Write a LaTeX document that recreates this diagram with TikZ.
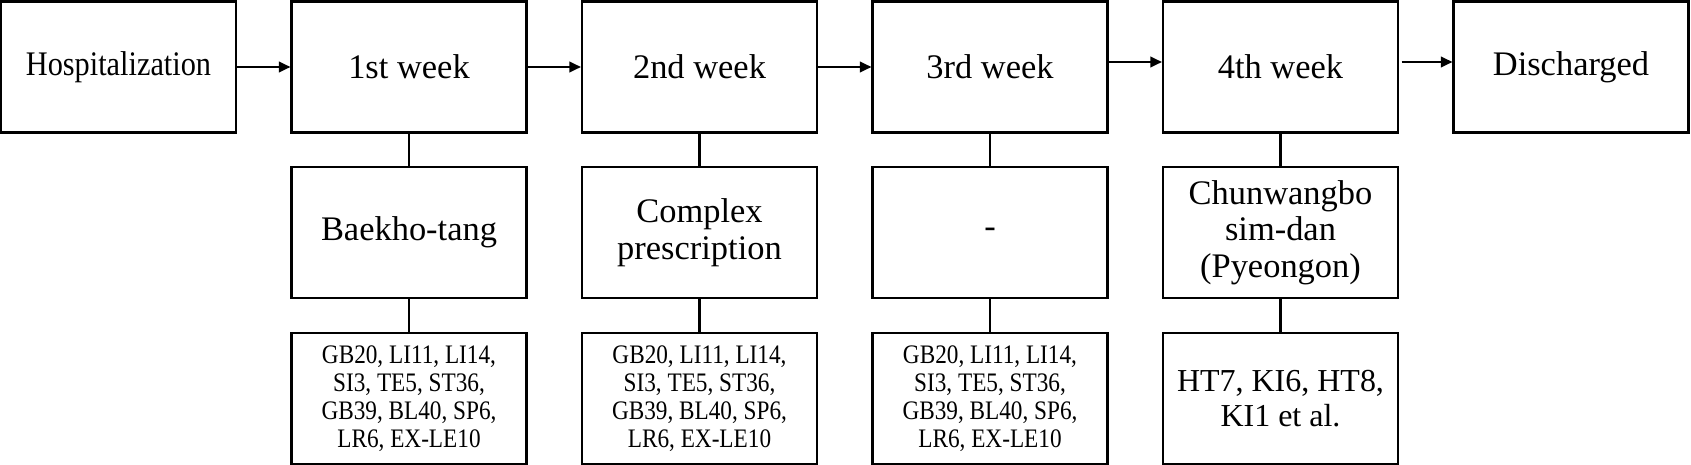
\documentclass[tikz,border=0pt]{standalone}
\usepackage{fontspec}
\setmainfont{Liberation Serif}
\newfontfamily\narrowfont[FakeStretch=0.88]{Liberation Serif}
\newfontfamily\condfont[FakeStretch=0.87]{Liberation Serif}
\usetikzlibrary{arrows.meta}
\begin{document}
\begin{tikzpicture}[
  box/.style={draw, line width=1.2pt, minimum width=4.7cm, minimum height=2.62cm, align=center, inner sep=2pt},
  toptext/.style={font=\fontsize{19.6}{21}\selectfont},
  midtext/.style={font=\fontsize{19.6}{20.8}\selectfont},
  acutext/.style={font=\condfont\fontsize{15.2}{16}\selectfont},
  bigacu/.style={font=\fontsize{18.2}{20}\selectfont},
  arr/.style={line width=1.2pt, -{Triangle[length=0.23cm,width=0.21cm]}},
  link/.style={line width=1.2pt}
]
\useasboundingbox (0,0) rectangle (33.82,-9.30);
% top row
\node[box, font=\narrowfont\fontsize{19.6}{21}\selectfont] (h) at (2.37,-1.34) {Hospitalization};
\node[box, toptext] (w1) at (8.18,-1.34) {1st week};
\node[box, toptext] (w2) at (13.99,-1.34) {2nd week};
\node[box, toptext] (w3) at (19.80,-1.34) {3rd week};
\node[box, toptext] (w4) at (25.61,-1.34) {4th week};
\node[box, toptext] (d) at (31.42,-1.34) {Discharged};
% middle row
\node[box, midtext] (m1) at (8.18,-4.65) {Baekho-tang};
\node[box, midtext] (m2) at (13.99,-4.65) {Complex\\prescription};
\node[box, midtext] (m3) at (19.80,-4.65) {-};
\node[box, midtext] (m4) at (25.61,-4.65) {Chunwangbo\\sim-dan\\(Pyeongon)};
% bottom row
\node[box, acutext] (b1) at (8.18,-7.97) {GB20, LI11, LI14,\\SI3, TE5, ST36,\\GB39, BL40, SP6,\\LR6, EX-LE10};
\node[box, acutext] (b2) at (13.99,-7.97) {GB20, LI11, LI14,\\SI3, TE5, ST36,\\GB39, BL40, SP6,\\LR6, EX-LE10};
\node[box, acutext] (b3) at (19.80,-7.97) {GB20, LI11, LI14,\\SI3, TE5, ST36,\\GB39, BL40, SP6,\\LR6, EX-LE10};
\node[box, bigacu] (b4) at (25.61,-7.97) {HT7, KI6, HT8,\\KI1 et al.};
% arrows
\draw[arr] (h.east) -- (w1.west);
\draw[arr] (w1.east) -- (w2.west);
\draw[arr] (w2.east) -- (w3.west);
\draw[arr] ([yshift=0.1cm]w3.east) -- ([yshift=0.1cm]w4.west);
\draw[arr] ([yshift=0.1cm,xshift=0.05cm]w4.east) -- ([yshift=0.1cm]d.west);
% links
\draw[link] (w1.south) -- (m1.north);
\draw[link] (w2.south) -- (m2.north);
\draw[link] (w3.south) -- (m3.north);
\draw[link] (w4.south) -- (m4.north);
\draw[link] (m1.south) -- (b1.north);
\draw[link] (m2.south) -- (b2.north);
\draw[link] (m3.south) -- (b3.north);
\draw[link] (m4.south) -- (b4.north);
\end{tikzpicture}
\end{document}
